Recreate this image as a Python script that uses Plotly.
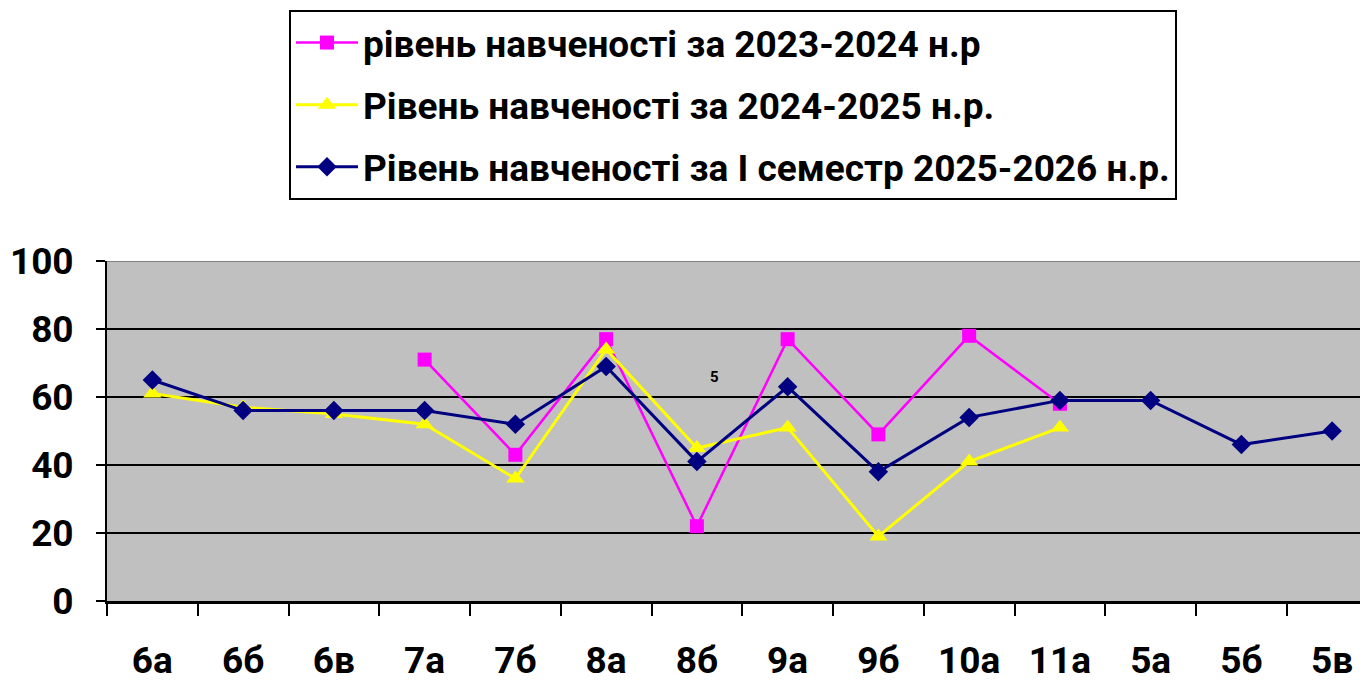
import plotly.graph_objects as go

categories = ["6а", "6б", "6в", "7а", "7б", "8а", "8б", "9а", "9б", "10а", "11а", "5а", "5б", "5в"]
names = [
    "рівень навченості за 2023-2024 н.р",
    "Рівень навченості за 2024-2025 н.р.",
    "Рівень навченості за І семестр 2025-2026 н.р.",
]
s2023 = [None, None, None, 71, 43, 77, 22, 77, 49, 78, 58, None, None, None]
s2024 = [61, 57, 55, 52, 36, 74, 45, 51, 19, 41, 51, None, None, None]
s2025 = [65, 56, 56, 56, 52, 69, 41, 63, 38, 54, 59, 59, 46, 50]
y_ticks = [0, 20, 40, 60, 80, 100]

FONT = "Roboto, 'Open Sans', sans-serif"

# page body has an 8px margin; the figure is sized so that it fills the window
W, H = 1360, 674
L, T, B = 99, 253, 81
PW = W - L
PH = H - T - B

fig = go.Figure()
fig.add_trace(go.Scatter(
    x=categories, y=s2023, name=names[0], mode="lines+markers", legendgroup="a",
    line=dict(color="#FF00FF", width=2.5),
    marker=dict(symbol="square", size=14, color="#FF00FF"),
    connectgaps=False,
))
fig.add_trace(go.Scatter(
    x=categories, y=s2024, name=names[1], mode="lines+markers", legendgroup="b",
    line=dict(color="#FFFF00", width=3),
    marker=dict(symbol="triangle-up", size=16, color="#FFFF00"),
))
fig.add_trace(go.Scatter(
    x=categories, y=s2025, name=names[2], mode="lines+markers", legendgroup="c",
    line=dict(color="#000080", width=3),
    marker=dict(symbol="diamond", size=15, color="#000080"),
))

fig.add_annotation(x=6.19, y=66, xref="x", yref="y", text="<b>5</b>", showarrow=False,
                   font=dict(family=FONT, size=15, color="black"))

fig.add_shape(type="line", xref="paper", yref="y", x0=0, x1=1, y0=100, y1=100,
              line=dict(color="#808080", width=2))

fig.update_layout(
    width=W, height=H,
    margin=dict(l=L, r=0, t=T, b=B),
    paper_bgcolor="white",
    plot_bgcolor="#C0C0C0",
    font=dict(family=FONT, size=34, color="black", weight="bold"),
    showlegend=True,
    legend=dict(
        x=(289 - 8 - L) / PW, y=(H - B - (10 - 8)) / PH, xanchor="left", yanchor="top",
        bgcolor="white", bordercolor="black", borderwidth=2,
        font=dict(family=FONT, size=37, color="black", weight="bold"),
        traceorder="grouped", tracegroupgap=11, itemwidth=62,
    ),
    xaxis=dict(
        type="category", categoryorder="array", categoryarray=categories,
        range=[-0.5, 13.395], tickson="boundaries", ticks="outside", ticklen=12,
        tickwidth=2, tickcolor="black", showgrid=False, showline=True,
        linecolor="black", linewidth=3, ticklabelstandoff=25,
        tickfont=dict(family=FONT, size=37, color="black", weight="bold"),
        fixedrange=True,
    ),
    yaxis=dict(
        range=[0, 100], tickvals=y_ticks, ticks="outside", ticklen=9, tickwidth=2,
        tickcolor="black", showgrid=True, gridcolor="black", gridwidth=2,
        showline=True, linecolor="black", linewidth=2, zeroline=False,
        ticklabelstandoff=15,
        tickfont=dict(family=FONT, size=37, color="black", weight="bold"),
        fixedrange=True,
    ),
)

fig.write_html("out.html")
